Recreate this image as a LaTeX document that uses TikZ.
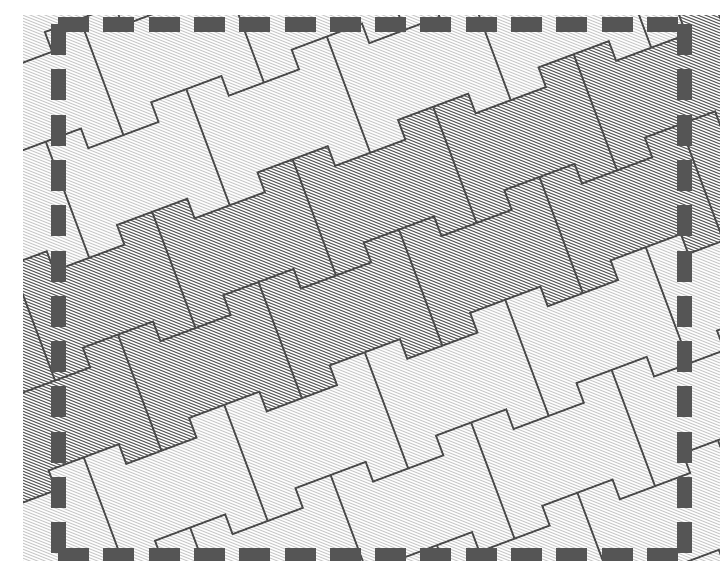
\documentclass[tikz,border=0pt]{standalone}
\definecolor{dashgray}{HTML}{555555}
\definecolor{edgegray}{HTML}{4A4A4A}
\definecolor{hatchlight}{HTML}{C9C9C9}
\definecolor{hatchdark}{HTML}{5C5C5C}
\begin{document}
\begin{tikzpicture}[x=1pt,y=-1pt,
  lighthatch/.style={draw=hatchlight,line width=1.0pt},
  darkhatch/.style={draw=hatchdark,line width=1.05pt},
  tileedge/.style={draw=edgegray,line width=1.8pt,line join=miter},
  frameline/.style={draw=dashgray,line width=15pt,dash pattern=on 31pt off 14.3pt},
  tileframe/.style={shift={(117pt,-225pt)},x={(0.93667pt,0.35021pt)},y={(0.35021pt,-0.93667pt)}}]
\useasboundingbox (0,0) rectangle (720,560);
\begin{scope}
  \clip (23,15) rectangle (720,560);
  \fill[white] (23,15) rectangle (720,560);
  % light hatching everywhere
  \draw[lighthatch] \foreach \i in {0,...,280} {(0,{-276+3*\i}) -- (720,{12+3*\i})};
  % dark band (two rows of tiles)
  \begin{scope}
    \clip[tileframe] \foreach \n in {-4,...,5} {
      ({150*\n},0) -- ({150*\n+75},0) -- ({150*\n+75},21) -- ({150*\n+150},21) --
      ({150*\n+150},227) -- ({150*\n+75},227) -- ({150*\n+75},206) -- ({150*\n},206) -- cycle};
    \fill[white] (23,15) rectangle (720,560);
    \draw[darkhatch] \foreach \i in {0,...,280} {(0,{-276+3*\i}) -- (720,{12+3*\i})};
  \end{scope}
  % tile edges
  \begin{scope}[tileframe]
    \foreach \k/\ph in {-3/75,-2/0,-1/75,0/0,1/75,2/0,3/75,4/0,5/75,6/0} {
      \draw[tileedge] ({\ph-600},{103*\k}) \foreach \n in {-4,...,5} {
        -- ({\ph+150*\n+75},{103*\k}) -- ({\ph+150*\n+75},{103*\k+21})
        -- ({\ph+150*\n+150},{103*\k+21}) -- ({\ph+150*\n+150},{103*\k}) };
      \foreach \n in {-4,...,5} {
        \draw[tileedge] ({\ph+150*\n+37.5},{103*\k}) -- ({\ph+150*\n+37.5},{103*\k+124});
      }
    }
  \end{scope}
\end{scope}
% dashed frame
\coordinate (tl) at (58,24);
\coordinate (tr) at (684,24);
\coordinate (bl) at (58,555);
\coordinate (br) at (684,555);
\draw[frameline] (tl) -- (tr);
\draw[frameline] (bl) -- (br);
\draw[frameline] (tl) -- (bl);
\draw[frameline] (tr) -- (br);
\end{tikzpicture}
\end{document}
